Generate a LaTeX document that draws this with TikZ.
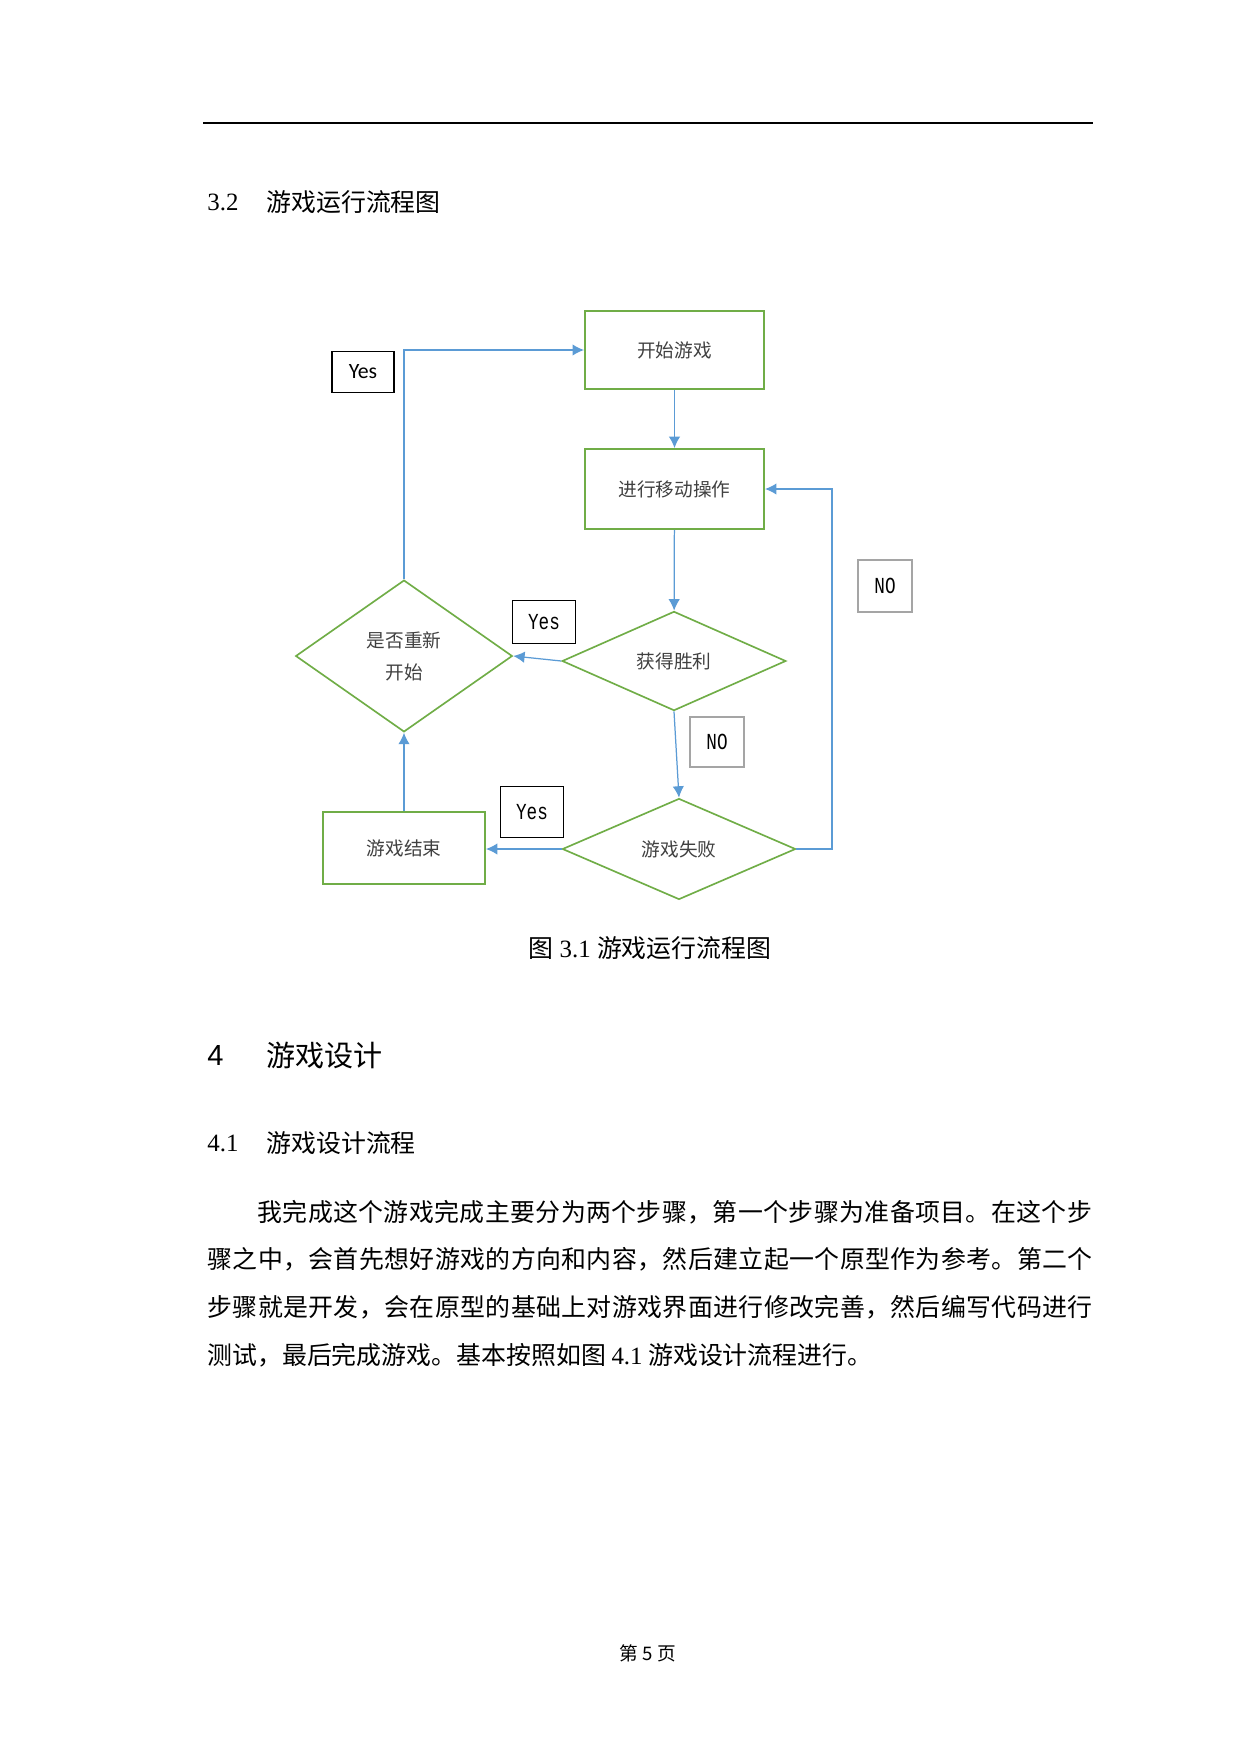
\documentclass[tikz,border=0pt]{standalone}
\usepackage{fontspec}
\setmainfont{Liberation Serif}
\newfontfamily\cjk{Noto Sans CJK SC}
\newfontfamily\labfont{Liberation Mono}
\newfontfamily\yesfont{Carlito}
\newfontfamily\hdsans{Liberation Sans}
\usetikzlibrary{arrows.meta,shapes.geometric,positioning}
\definecolor{flowgreen}{HTML}{70AD47}
\definecolor{flowblue}{HTML}{5B9BD5}
\definecolor{labgray}{HTML}{A5A5A5}
\definecolor{nodetext}{HTML}{404040}
\newcommand\tallab[1]{\scalebox{1}[1.3]{#1}}

\begin{document}
\begin{tikzpicture}[x=0.16933mm, y=-0.16933mm,
  procbox/.style={draw=flowgreen, line width=1pt, minimum width=30.3mm, inner sep=0pt, text=nodetext, font=\cjk\fontsize{9}{15.5}\selectfont},
  decide/.style={diamond, draw=flowgreen, line width=0.8pt, inner sep=0pt, align=center, text=nodetext, font=\cjk\fontsize{9}{15.5}\selectfont},
  yeslab/.style={draw=black, line width=0.5pt, inner sep=0pt, font=\labfont\fontsize{8.5}{8.5}\selectfont},
  nolab/.style={draw=labgray, line width=1pt, inner sep=0pt, font=\labfont\fontsize{8.5}{8.5}\selectfont},
  flow/.style={draw=flowblue, line width=0.6pt, -{Latex[length=5.5pt,width=5.5pt]}},
  bodyline/.style={anchor=west, inner sep=0pt, font=\cjk\fontsize{12}{12}\selectfont},
  spreadline/.style={bodyline, font=\cjk\fontsize{12}{12}\selectfont\addfontfeatures{LetterSpace=1.6}}]
\useasboundingbox (0,0) rectangle (1241,1754);
\draw [line width=1pt] (203,123) -- (1093,123);
\node [anchor=west, inner sep=0pt, font=\fontsize{12}{12}\selectfont] (h32) at (207,202) {3.2};
\node [anchor=west, inner sep=0pt, font=\cjk\fontsize{12}{12}\selectfont] (h32t) at (266,202) {游戏运行流程图};

\node [procbox, minimum height=13.2mm] (start) at (674.5,350) {开始游戏};
\node [procbox, minimum height=13.5mm] (move) at (674.5,489) {进行移动操作};
\node [decide, minimum width=37.9mm, minimum height=16.8mm] (win) at (674,661) {获得胜利};
\node [decide, minimum width=39.5mm, minimum height=17.1mm] (lose) at (679,849) {游戏失败};
\node [decide, minimum width=36.7mm, minimum height=25.7mm] (restart) at (404,656) {是否重新\\开始};
\node [procbox, minimum width=27.4mm, minimum height=12.2mm] (over) at (404,848) {游戏结束};

\node [draw=black, line width=0.5pt, inner sep=0pt, minimum width=10.5mm, minimum height=6.9mm, font=\yesfont\fontsize{10.5}{10.5}\selectfont] (yes1) at (363,372) {Yes};
\node [yeslab, minimum width=10.8mm, minimum height=7.3mm] (yes2) at (544,622) {\tallab{Yes}};
\node [yeslab, minimum width=10.7mm, minimum height=8.5mm] (yes3) at (532,812) {\tallab{Yes}};
\node [nolab, minimum width=9.1mm, minimum height=8.8mm] (no1) at (885,586) {\tallab{NO}};
\node [nolab, minimum width=9.0mm, minimum height=8.6mm] (no2) at (717,742) {\tallab{NO}};

\coordinate (rt) at (832,849);
\draw [flow] (start) -- (move);
\draw [flow] (move) -- (win);
\draw [flow] (win.west) -- (restart.east);
\draw [flow] (win.south) -- (lose.north);
\draw [flow] (lose.west) -- (lose.west -| over.east);
\draw [flow] (lose.east) -- (rt) |- (move.east);
\draw [flow] (over) -- (restart);
\draw [flow] (restart.north) |- (start.west);

\node [anchor=center, inner sep=0pt, font=\fontsize{12}{12}\selectfont] (cap) at (650,948) {{\cjk 图} 3.1 {\cjk 游戏运行流程图}};

\node [anchor=west, inner sep=0pt, font=\hdsans\fontsize{14}{14}\selectfont] (h4) at (207,1055) {4};
\node [anchor=west, inner sep=0pt, font=\cjk\fontsize{14}{14}\selectfont] (h4t) at (266,1055) {游戏设计};
\node [anchor=west, inner sep=0pt, font=\fontsize{12}{12}\selectfont] (h41) at (207,1143) {4.1};
\node [anchor=west, inner sep=0pt, font=\cjk\fontsize{12}{12}\selectfont] (h41t) at (266,1143) {游戏设计流程};

\node [spreadline] (p1) at (257,1212) {我完成这个游戏完成主要分为两个步骤，第一个步骤为准备项目。在这个步};
\node [spreadline] (p2) at (207,1259) {骤之中，会首先想好游戏的方向和内容，然后建立起一个原型作为参考。第二个};
\node [spreadline] (p3) at (207,1307) {步骤就是开发，会在原型的基础上对游戏界面进行修改完善，然后编写代码进行};
\node [bodyline] (p4) at (207,1355) {测试，最后完成游戏。基本按照如图 \textrm{4.1} 游戏设计流程进行。};

\node [inner sep=0pt, font=\cjk\fontsize{9}{9}\selectfont] (pg) at (648,1653) {第 5 页};
\end{tikzpicture}
\end{document}
